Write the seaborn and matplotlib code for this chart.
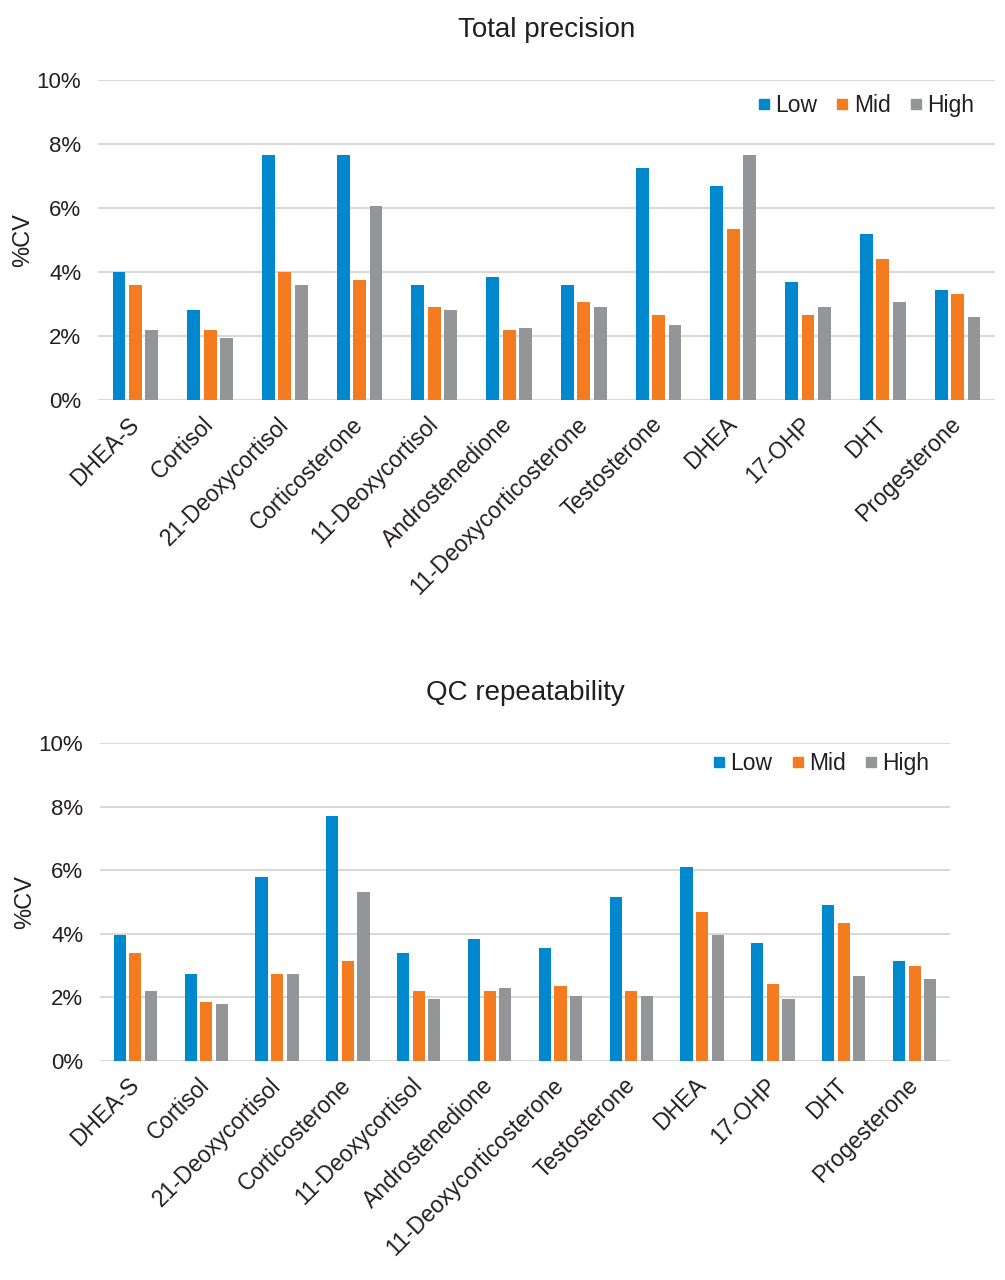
import matplotlib
matplotlib.use("Agg")
import matplotlib.pyplot as plt
import seaborn as sns
import pandas as pd
from matplotlib.lines import Line2D
from matplotlib.ticker import FuncFormatter

analytes = ["DHEA-S", "Cortisol", "21-Deoxycortisol", "Corticosterone", "11-Deoxycortisol",
            "Androstenedione", "11-Deoxycorticosterone", "Testosterone", "DHEA", "17-OHP",
            "DHT", "Progesterone"]
levels = ["Low", "Mid", "High"]

# Total precision (%CV)
total_low = [4.0, 2.8, 7.65, 7.65, 3.6, 3.85, 3.6, 7.25, 6.7, 3.7, 5.2, 3.45]
total_mid = [3.6, 2.2, 4.0, 3.75, 2.9, 2.2, 3.05, 2.65, 5.35, 2.65, 4.4, 3.3]
total_high = [2.2, 1.95, 3.6, 6.05, 2.8, 2.25, 2.9, 2.35, 7.65, 2.9, 3.05, 2.6]

# QC repeatability (%CV)
rep_low = [3.95, 2.75, 5.8, 7.7, 3.4, 3.85, 3.55, 5.15, 6.1, 3.7, 4.9, 3.15]
rep_mid = [3.4, 1.87, 2.75, 3.15, 2.2, 2.2, 2.35, 2.2, 4.68, 2.43, 4.35, 3.0]
rep_high = [2.2, 1.78, 2.75, 5.3, 1.95, 2.28, 2.03, 2.03, 3.95, 1.95, 2.66, 2.59]

colors = ["#0088CE", "#F47B20", "#939598"]
txt = "#231F20"

plt.rcParams['font.family'] = ['Liberation Sans', 'DejaVu Sans']

def long_df(low, mid, high):
    rows = []
    for lvl, vals in zip(levels, [low, mid, high]):
        for a, v in zip(analytes, vals):
            rows.append({"Analyte": a, "Level": lvl, "CV": v})
    return pd.DataFrame(rows)

fig = plt.figure(figsize=(10.05, 12.8), dpi=100)
ax1 = fig.add_axes([0.0975, 0.6875, 0.8925, 0.25])
ax2 = fig.add_axes([0.0995, 0.1711, 0.8458, 0.2484])

panels = [
    (ax1, long_df(total_low, total_mid, total_high), "Total precision", 1.022),
    (ax2, long_df(rep_low, rep_mid, rep_high), "QC repeatability", 1.037),
]

for ax, df, title, leg_y in panels:
    sns.barplot(data=df, x="Analyte", y="CV", hue="Level", hue_order=levels,
                palette=colors, width=0.66, gap=0.22, ax=ax, legend=False,
                saturation=1, errorbar=None)
    ax.set_ylim(0, 10)
    ax.set_yticks([0, 2, 4, 6, 8, 10])
    ax.yaxis.set_major_formatter(FuncFormatter(lambda v, p: f"{v:.0f}%"))
    ax.set_xlim(-0.5, len(analytes) - 0.5)
    ax.grid(axis="y", color="#D9D9D9", linewidth=1.5)
    ax.set_axisbelow(True)
    for s in ax.spines.values():
        s.set_visible(False)
    ax.tick_params(axis="both", length=0, labelsize=16, colors=txt)
    ax.tick_params(axis="y", pad=12)
    ax.set_xlabel("")
    ax.set_ylabel("%CV", fontsize=17, color=txt, labelpad=2)
    ax.set_xticks(range(len(analytes)))
    ax.set_xticklabels(analytes, rotation=45, ha="right", va="center",
                       rotation_mode="anchor", fontsize=16.5, color=txt)
    ax.tick_params(axis="x", pad=15)
    ax.set_title(title, fontsize=20, color=txt, pad=31)
    handles = [Line2D([], [], marker="s", linestyle="none", markersize=7,
                      markerfacecolor=c, markeredgecolor=c) for c in colors]
    ax.legend(handles, levels, ncol=3, frameon=False, fontsize=16.5,
              loc="upper right", bbox_to_anchor=(1.0, leg_y),
              handlelength=0.6, handletextpad=0.2, columnspacing=0.8,
              labelcolor=txt)

fig.savefig("out.png", dpi=100)
